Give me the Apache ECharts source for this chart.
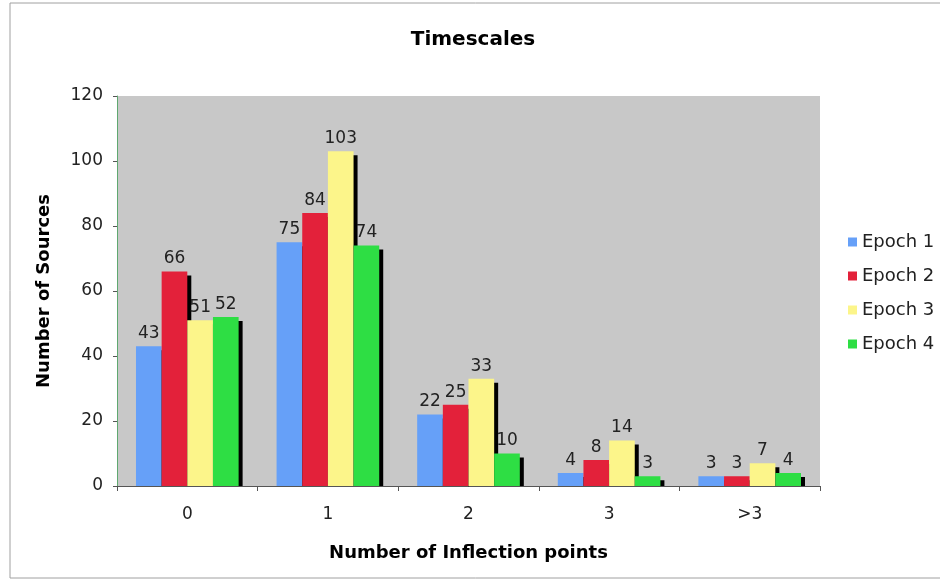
<!DOCTYPE html>
<html><head><meta charset="utf-8">
<script src="https://cdn.jsdelivr.net/npm/echarts@6/dist/echarts.min.js"></script>
<style>html,body{margin:0;padding:0;background:#fff}#c{width:940px;height:581px}</style>
</head><body><div id="c"></div>
<script>
const categories = ['0', '1', '2', '3', '>3'];
const epoch1 = [43, 75, 22, 4, 3];
const epoch2 = [66, 84, 25, 8, 3];
const epoch3 = [51, 103, 33, 14, 7];
const epoch4 = [52, 74, 10, 3, 4];
const seriesNames = ['Epoch 1', 'Epoch 2', 'Epoch 3', 'Epoch 4'];
const colors = ['#66a0f8', '#e3213a', '#fcf58a', '#2ede44'];
const yTicks = [0, 20, 40, 60, 80, 100, 120];

const font = 'DejaVu Sans, Verdana, sans-serif';
const chart = echarts.init(document.getElementById('c'));
const mk = (name, data, i) => ({
  name, type: 'bar', data,
  barGap: '0%', barCategoryGap: '27%',
  itemStyle: { color: colors[i], shadowColor: '#000', shadowOffsetX: 4, shadowOffsetY: 4, shadowBlur: 0 },
  label: { show: true, position: 'top', color: '#222', fontFamily: font, fontSize: 17, distance: 4 }
});
chart.setOption({
  animation: false,
  title: { text: 'Timescales', left: 468, top: 25, textAlign: 'center',
    textStyle: { fontFamily: font, fontWeight: 'bold', fontSize: 20, color: '#000' } },
  legend: { orient: 'vertical', left: 843, top: 228, itemWidth: 9, itemHeight: 9, itemGap: 16,
    icon: 'rect', textStyle: { fontFamily: font, fontSize: 18, color: '#222' }, data: seriesNames },
  grid: { left: 117, right: 120, top: 96, bottom: 95, backgroundColor: '#c8c8c8', show: true, borderWidth: 0 },
  graphic: [
    { type: 'rect', shape: { x: 10, y: 3, width: 960, height: 575 }, style: { fill: 'none', stroke: '#a0a0a0', lineWidth: 1 }, silent: true, z: -10 },
    { type: 'rect', shape: { x: 118, y: 487, width: 712, height: 6 }, style: { fill: '#fff' }, silent: true, z: 5 }
  ],
  xAxis: { type: 'category', data: categories, z: 10,
    name: 'Number of Inflection points', nameLocation: 'middle', nameGap: 58,
    nameTextStyle: { fontFamily: font, fontWeight: 'bold', fontSize: 18, color: '#000' },
    axisLine: { lineStyle: { color: '#555', width: 1 } },
    axisTick: { show: true, length: 5, lineStyle: { color: '#555' } },
    axisLabel: { fontFamily: font, fontSize: 17, color: '#222', margin: 20 } },
  yAxis: { type: 'value', min: 0, max: 120, interval: 20, z: 10,
    name: 'Number of Sources', nameLocation: 'middle', nameGap: 64,
    nameTextStyle: { fontFamily: font, fontWeight: 'bold', fontSize: 18, color: '#000' },
    axisLine: { show: true, lineStyle: { color: '#5fa870', width: 1 } },
    axisTick: { show: true, length: 4, lineStyle: { color: '#555' } },
    splitLine: { show: false },
    axisLabel: { fontFamily: font, fontSize: 17, color: '#222', margin: 14,
      formatter: v => yTicks.includes(v) ? String(v) : '' } },
  series: [mk(seriesNames[0], epoch1, 0), mk(seriesNames[1], epoch2, 1), mk(seriesNames[2], epoch3, 2), mk(seriesNames[3], epoch4, 3)]
});
</script></body></html>
